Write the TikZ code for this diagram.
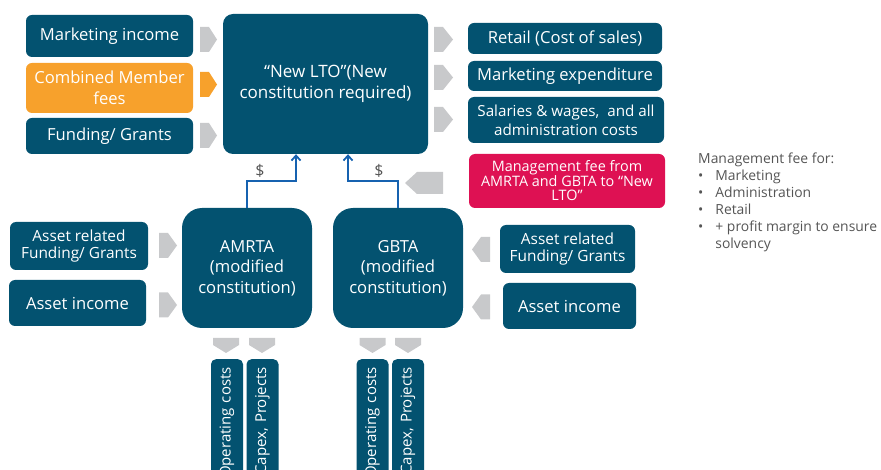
\documentclass[tikz,border=0pt]{standalone}
\usepackage{fontspec}
\setmainfont{Open Sans}
\usetikzlibrary{arrows.meta}
\definecolor{tealbox}{RGB}{3,82,112}
\definecolor{orng}{RGB}{247,161,44}
\definecolor{pnk}{RGB}{222,17,83}
\definecolor{gry}{RGB}{200,201,203}
\definecolor{blu}{RGB}{22,98,176}
\definecolor{txtg}{RGB}{85,85,85}
\tikzset{
  box/.style={fill=tealbox, text=white, rounded corners=6pt, inner sep=0pt, align=center, font=\fontsize{16.6}{20.5}\selectfont},
  smallbox/.style={box, font=\fontsize{15.4}{16.5}\selectfont},
  bigbox/.style={box, rounded corners=20pt},
  vbox/.style={box, rounded corners=5pt, rotate=90, anchor=east, minimum height=32, text width=124, align=right, inner xsep=8pt, font=\fontsize{15}{18}\selectfont},
  greyarr/.style={fill=gry},
  orngarr/.style={fill=orng},
  conn/.style={draw=blu, line width=1.8pt, -{Straight Barb[length=5pt,width=9pt]}},
  dollar/.style={text=txtg, font=\fontsize{16}{18}\selectfont},
  note/.style={text=txtg, font=\fontsize{13.9}{17}\selectfont, align=left, anchor=north west, inner sep=0pt}
}
\newcommand\rgtarr[4][greyarr]{\fill[#1] (#2,#4-12.5) -- (#2+9,#4-12.5) -- (#3,#4) -- (#2+9,#4+12.5) -- (#2,#4+12.5) -- cycle;}
\newcommand\lftarr[4][greyarr]{\fill[#1] (#3,#4-12.5) -- (#2+9,#4-12.5) -- (#2,#4) -- (#2+9,#4+12.5) -- (#3,#4+12.5) -- cycle;}
\newcommand\dwnarr[2]{\fill[greyarr] (#1-13,#2) -- (#1+13,#2) -- (#1+13,#2+7) -- (#1,#2+15) -- (#1-13,#2+7) -- cycle;}
\begin{document}
\begin{tikzpicture}[x=1pt,y=-1pt]
\useasboundingbox (0,0) rectangle (881,470);
\clip (0,0) rectangle (881,470);

% left column
\node[box, minimum width=167, minimum height=42] (mi) at (109.5,36) {Marketing income};
\node[box, fill=orng, minimum width=167, minimum height=50] (cmf) at (109.5,88) {Combined Member\\fees};
\node[box, minimum width=167, minimum height=36] (fg) at (109.5,136) {Funding/ Grants};

% central
\node[box, rounded corners=10pt, minimum width=205, minimum height=140, font=\fontsize{17}{21}\selectfont] (lto) at (325.5,84) {“New LTO”(New\\constitution required)};

% right column
\node[box, minimum width=194, minimum height=31] (ret) at (565,38.5) {Retail (Cost of sales)};
\node[box, minimum width=194, minimum height=30] (mex) at (565,76) {Marketing expenditure};
\node[box, minimum width=196, minimum height=46, font=\fontsize{15.2}{19}\selectfont] (sal) at (566,120) {Salaries \& wages,\ \ and all\\administration costs};
\node[box, fill=pnk, minimum width=196, minimum height=54, font=\fontsize{14.4}{14.5}\selectfont] (mgf) at (567,181) {Management fee from\\AMRTA and GBTA to “New\\LTO”};

% note
\node[note] (nt) at (698,151) {\begin{tabular}{@{}l@{\hspace{12pt}}l@{}}
\multicolumn{2}{@{}l@{}}{Management fee for:}\\
\textbullet & Marketing\\
\textbullet & Administration\\
\textbullet & Retail\\
\textbullet & + profit margin to ensure\\
 & solvency
\end{tabular}};

% lower boxes
\node[bigbox, minimum width=130, minimum height=120] (amrta) at (247,268) {AMRTA\\(modified\\constitution)};
\node[bigbox, minimum width=130, minimum height=120] (gbta) at (398,268) {GBTA\\(modified\\constitution)};
\node[smallbox, minimum width=138, minimum height=48] (arf1) at (79,246) {Asset related\\Funding/ Grants};
\node[box, minimum width=137, minimum height=46] (ai1) at (77.5,303) {Asset income};
\node[smallbox, minimum width=135, minimum height=48] (arf2) at (567.5,249) {Asset related\\Funding/ Grants};
\node[box, minimum width=133, minimum height=46] (ai2) at (569.5,306) {Asset income};

% vertical boxes
\node[vbox] (op1) at (227,359) {Operating costs};
\node[vbox] (cp1) at (262.5,359) {Capex, Projects};
\node[vbox] (op2) at (372.5,359) {Operating costs};
\node[vbox] (cp2) at (408,359) {Capex, Projects};

% grey arrows
\rgtarr{200}{217}{39.5}
\rgtarr[orngarr]{200}{217}{84.5}
\rgtarr{200}{217}{135.5}
\rgtarr{434}{453}{39.5}
\rgtarr{434}{453}{77.5}
\rgtarr{434}{453}{119.5}
\rgtarr{159}{177}{245.5}
\rgtarr{159}{177}{305}
\lftarr{472}{490}{249.5}
\lftarr{472}{490}{307}
\fill[greyarr] (405,183) -- (417,172) -- (443,172) -- (443,194) -- (417,194) -- cycle;
\dwnarr{226}{338}
\dwnarr{262}{338}
\dwnarr{372.5}{338}
\dwnarr{408}{338}

% connectors
\coordinate (ja) at (296,181);
\coordinate (jb) at (348,181);
\draw[conn] (amrta.north) |- (ja) -- (ja |- lto.south);
\draw[conn] (gbta.north) |- (jb) -- (jb |- lto.south);
\node[dollar] (d1) at (260,171) {\$};
\node[dollar] (d2) at (379,171) {\$};
\end{tikzpicture}
\end{document}
